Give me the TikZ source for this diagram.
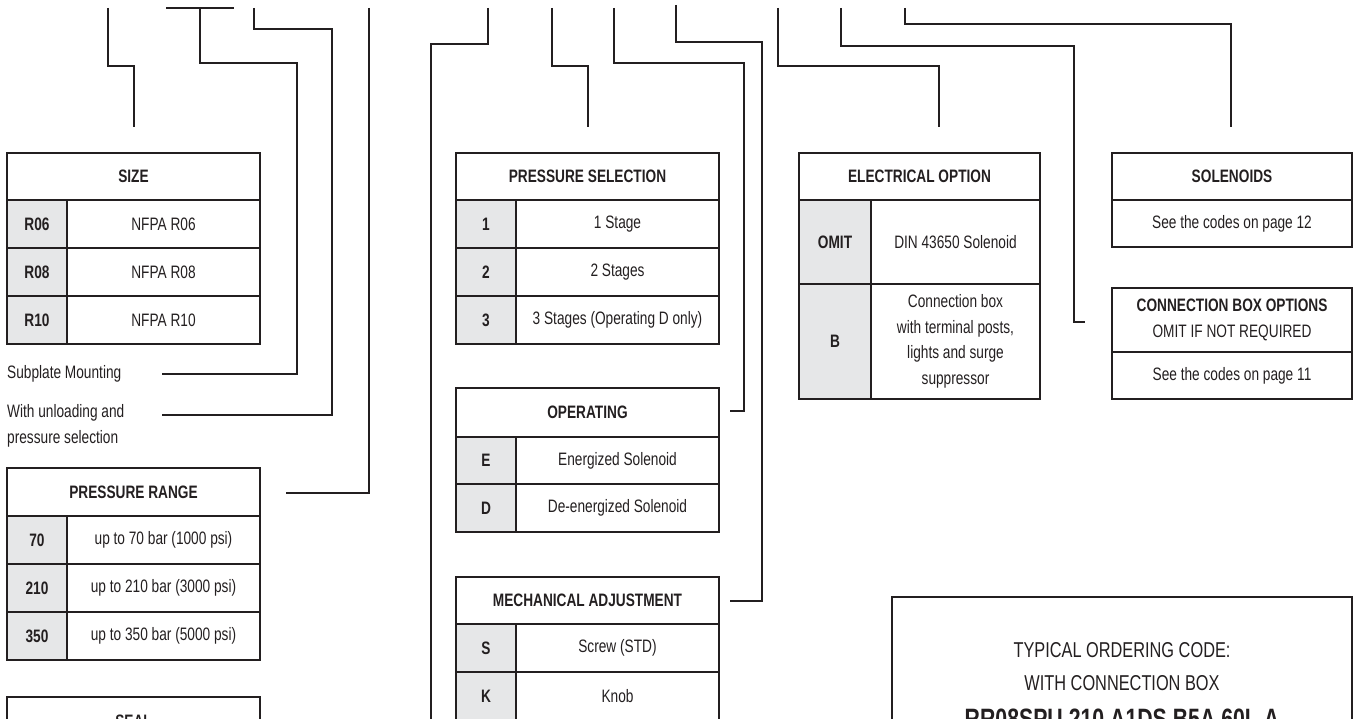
\documentclass[tikz,border=0pt]{standalone}
\usepackage{fontspec}
\setmainfont{Liberation Sans}[FakeStretch=0.76]
\definecolor{ink}{HTML}{231F20}
\definecolor{codegray}{HTML}{E6E7E8}
\tikzset{
  box/.style={draw=ink, line width=1.2pt, inner sep=0pt, outer sep=0pt, anchor=north west, text=ink, align=center, font=\fontsize{18}{25.5}\selectfont},
  codebox/.style={box, fill=codegray, font=\fontsize{18}{25.5}\selectfont\bfseries},
  hdrbox/.style={box, font=\fontsize{18}{25.5}\selectfont\bfseries},
  conn/.style={draw=ink, line width=1.2pt},
  lbl/.style={anchor=west, inner sep=0pt, text=ink, align=left, font=\fontsize{18}{26}\selectfont},
  typ/.style={inner sep=0pt, text=ink, font=\fontsize{21.5}{26}\selectfont},
  typb/.style={inner sep=0pt, text=ink, font=\fontsize{28}{30}\selectfont\bfseries}
}
\begin{document}
\begin{tikzpicture}[x=1pt,y=-1pt]
\useasboundingbox (0,0) rectangle (1356,719);
\clip (0,0) rectangle (1356,719);

% ---------- SIZE ----------
\node[hdrbox, minimum width=253, minimum height=47] (sizeh) at (7,153) {SIZE};
\node[codebox, minimum width=60, minimum height=48] (sizec1) at (7,200) {R06};
\node[box, minimum width=193, minimum height=48] (sized1) at (67,200) {NFPA R06};
\node[codebox, minimum width=60, minimum height=48] (sizec2) at (7,248) {R08};
\node[box, minimum width=193, minimum height=48] (sized2) at (67,248) {NFPA R08};
\node[codebox, minimum width=60, minimum height=48] (sizec3) at (7,296) {R10};
\node[box, minimum width=193, minimum height=48] (sized3) at (67,296) {NFPA R10};

% ---------- labels ----------
\node[lbl] (subpl) at (7,374) {Subplate Mounting};
\node[lbl] (unload) at (7,426) {With unloading and\\pressure selection};

% ---------- PRESSURE RANGE ----------
\node[hdrbox, minimum width=253, minimum height=48] (prh) at (7,468) {PRESSURE RANGE};
\node[codebox, minimum width=60, minimum height=48] (prc1) at (7,516) {70};
\node[box, minimum width=193, minimum height=48] (prd1) at (67,516) {up to 70 bar (1000 psi)};
\node[codebox, minimum width=60, minimum height=48] (prc2) at (7,564) {210};
\node[box, minimum width=193, minimum height=48] (prd2) at (67,564) {up to 210 bar (3000 psi)};
\node[codebox, minimum width=60, minimum height=48] (prc3) at (7,612) {350};
\node[box, minimum width=193, minimum height=48] (prd3) at (67,612) {up to 350 bar (5000 psi)};

% ---------- SEAL ----------
\node[hdrbox, minimum width=253, minimum height=48] (sealh) at (7,697) {SEAL};

% ---------- PRESSURE SELECTION ----------
\node[hdrbox, minimum width=263, minimum height=47] (psh) at (456,153) {PRESSURE SELECTION};
\node[codebox, minimum width=60, minimum height=48] (psc1) at (456,200) {1};
\node[box, minimum width=203, minimum height=48] (psd1) at (516,200) {1 Stage};
\node[codebox, minimum width=60, minimum height=48] (psc2) at (456,248) {2};
\node[box, minimum width=203, minimum height=48] (psd2) at (516,248) {2 Stages};
\node[codebox, minimum width=60, minimum height=48] (psc3) at (456,296) {3};
\node[box, minimum width=203, minimum height=48] (psd3) at (516,296) {3 Stages (Operating D only)};

% ---------- OPERATING ----------
\node[hdrbox, minimum width=263, minimum height=49] (oph) at (456,388) {OPERATING};
\node[codebox, minimum width=60, minimum height=47] (opc1) at (456,437) {E};
\node[box, minimum width=203, minimum height=47] (opd1) at (516,437) {Energized Solenoid};
\node[codebox, minimum width=60, minimum height=48] (opc2) at (456,484) {D};
\node[box, minimum width=203, minimum height=48] (opd2) at (516,484) {De-energized Solenoid};

% ---------- MECHANICAL ADJUSTMENT ----------
\node[hdrbox, minimum width=263, minimum height=47] (mah) at (456,577) {MECHANICAL ADJUSTMENT};
\node[codebox, minimum width=60, minimum height=48] (mac1) at (456,624) {S};
\node[box, minimum width=203, minimum height=48] (mad1) at (516,624) {Screw (STD)};
\node[codebox, minimum width=60, minimum height=48] (mac2) at (456,672) {K};
\node[box, minimum width=203, minimum height=48] (mad2) at (516,672) {Knob};

% ---------- ELECTRICAL OPTION ----------
\node[hdrbox, minimum width=241, minimum height=47] (eoh) at (799,153) {ELECTRICAL OPTION};
\node[codebox, minimum width=72, minimum height=84] (eoc1) at (799,200) {OMIT};
\node[box, minimum width=169, minimum height=84] (eod1) at (871,200) {DIN 43650 Solenoid};
\node[codebox, minimum width=72, minimum height=115] (eoc2) at (799,284) {B};
\node[box, minimum width=169, minimum height=115] (eod2) at (871,284) {Connection box\\with terminal posts,\\lights and surge\\suppressor};

% ---------- SOLENOIDS ----------
\node[hdrbox, minimum width=240, minimum height=47] (solh) at (1112,153) {SOLENOIDS};
\node[box, minimum width=240, minimum height=47] (sold) at (1112,200) {See the codes on page 12};

% ---------- CONNECTION BOX OPTIONS ----------
\node[box, minimum width=240, minimum height=64] (cbh) at (1112,288) {\textbf{CONNECTION BOX OPTIONS}\\OMIT IF NOT REQUIRED};
\node[box, minimum width=240, minimum height=47] (cbd) at (1112,352) {See the codes on page 11};

% ---------- TYPICAL ORDERING CODE ----------
\node[box, minimum width=460, minimum height=200] (typbox) at (892,597) {};
\node[typ] (typ1) at (1122,650) {TYPICAL ORDERING CODE:};
\node[typ] (typ2) at (1122,683) {WITH CONNECTION BOX};
\node[typb] (typ3) at (1122,719) {RR08SPU 210 A1DS B5A 60L A};

% ---------- leader lines ----------
\coordinate (a0) at (108,8);
\draw[conn] (a0) -- (108,66) -- (134,66) -- (134,127);
\coordinate (b0) at (166,8); \coordinate (b1) at (234,8);
\draw[conn] (b0) -- (b1);
\draw[conn] (200,8) -- (200,63) -- (297,63) -- (297,374) -- (162,374);
\draw[conn] (254,8) -- (254,29) -- (332,29) -- (332,415) -- (162,415);
\draw[conn] (369,8) -- (369,493) -- (286,493);
\draw[conn] (488,8) -- (488,44) -- (431,44) -- (431,730);
\draw[conn] (552,8) -- (552,66) -- (588,66) -- (588,127);
\draw[conn] (614,8) -- (614,63) -- (744,63) -- (744,411) -- (730,411);
\draw[conn] (676,5) -- (676,42) -- (762,42) -- (762,601) -- (730,601);
\draw[conn] (778,8) -- (778,66) -- (939,66) -- (939,127);
\draw[conn] (841,8) -- (841,46) -- (1074,46) -- (1074,322) -- (1085,322);
\draw[conn] (905,8) -- (905,24) -- (1231,24) -- (1231,127);
\end{tikzpicture}
\end{document}
